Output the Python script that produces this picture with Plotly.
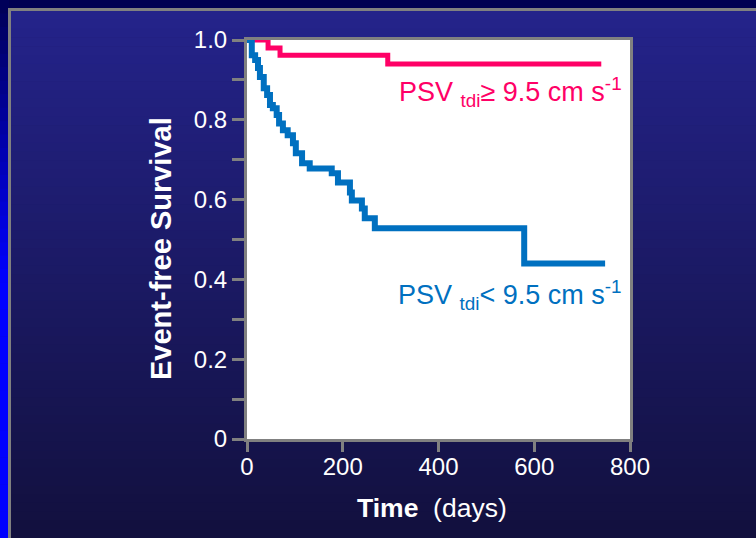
import plotly.graph_objects as go

# ---- data ----
pink_days = [0, 44, 69, 294, 740]
pink_surv = [1.0, 0.98, 0.962, 0.94, 0.94]

blue_days = [0, 10, 17, 23, 27, 35, 42, 48, 54, 62, 67, 75, 85, 96, 102,
             115, 131, 177, 190, 215, 219, 240, 246, 267, 579, 748]
blue_surv = [1.0, 0.962, 0.950, 0.930, 0.907, 0.879, 0.862, 0.837, 0.829,
             0.812, 0.791, 0.774, 0.761, 0.741, 0.716, 0.691, 0.678, 0.666,
             0.643, 0.618, 0.598, 0.578, 0.553, 0.528, 0.44, 0.44]

x_ticks = [0, 200, 400, 600, 800]
y_ticks = [0, 0.1, 0.2, 0.3, 0.4, 0.5, 0.6, 0.7, 0.8, 0.9, 1.0]
y_ticktext = ["0", "", "0.2", "", "0.4", "", "0.6", "", "0.8", "", "1.0"]

label_pink = "PSV <sub>tdi</sub>\u2265 9.5 cm s<sup>-1</sup>"
label_blue = "PSV <sub>tdi</sub>&lt; 9.5 cm s<sup>-1</sup>"

# ---- layout geometry ----
W, H = 756, 538
L, R, T, B = 247, 126, 40, 99
PW, PH = W - L - R, H - T - B
FONT = "Arial, Liberation Sans, sans-serif"


def px(x):
    return (x - L) / PW


def py(y):
    return (H - B - y) / PH


def lerp(c1, c2, t):
    return "rgb(%d,%d,%d)" % tuple(round(a + (b - a) * t) for a, b in zip(c1, c2))


shapes = []
# top band
shapes.append(dict(type="rect", xref="paper", yref="paper", x0=px(0), x1=px(W),
                   y0=py(0), y1=py(9), fillcolor="rgb(0,0,82)", line_width=0, layer="below"))
# left strip gradient
n = 40
for i in range(n):
    y0 = i * H / n
    y1 = (i + 1) * H / n
    t = min(1.0, (y0 + y1) / 2 / 280)
    shapes.append(dict(type="rect", xref="paper", yref="paper", x0=px(0), x1=px(9),
                       y0=py(y0), y1=py(y1 + 0.5), fillcolor=lerp((0, 0, 85), (0, 0, 255), t),
                       line_width=0, layer="below"))
# inner gradient
n = 60
top, bot = 11, H
for i in range(n):
    y0 = top + i * (bot - top) / n
    y1 = top + (i + 1) * (bot - top) / n
    t = i / (n - 1)
    shapes.append(dict(type="rect", xref="paper", yref="paper", x0=px(11), x1=px(W),
                       y0=py(y0), y1=py(y1 + 0.5), fillcolor=lerp((36, 35, 138), (18, 16, 62), t),
                       line_width=0, layer="below"))
# gray frame lines
shapes.append(dict(type="rect", xref="paper", yref="paper", x0=px(8), x1=px(W),
                   y0=py(8), y1=py(11), fillcolor="#808080", line_width=0, layer="below"))
shapes.append(dict(type="rect", xref="paper", yref="paper", x0=px(8), x1=px(11),
                   y0=py(8), y1=py(H), fillcolor="#808080", line_width=0, layer="below"))
# white plot area
shapes.append(dict(type="rect", xref="paper", yref="paper", x0=0, x1=1, y0=0, y1=1,
                   fillcolor="white", line_width=0, layer="below"))

fig = go.Figure()
fig.add_trace(go.Scatter(x=pink_days, y=pink_surv, mode="lines", line_shape="hv",
                         line=dict(color="#FF0066", width=5), showlegend=False))
fig.add_trace(go.Scatter(x=blue_days, y=blue_surv, mode="lines", line_shape="hv",
                         line=dict(color="#0070C0", width=6), showlegend=False))

axis_common = dict(showgrid=False, zeroline=False, showline=True, linecolor="#808080",
                   linewidth=3, mirror=True, ticks="outside", tickcolor="#808080",
                   tickwidth=3, tickfont=dict(family=FONT, size=24, color="white"))

fig.update_xaxes(range=[0, 800], tickvals=x_ticks, ticklen=10, ticklabelstandoff=-6,
                 **axis_common)
fig.update_yaxes(range=[0, 1], tickvals=y_ticks, ticktext=y_ticktext, ticklen=12, **axis_common)

annotations = [
    dict(x=313, y=0.87, xref="x", yref="y", text=label_pink, showarrow=False,
         xanchor="left", yanchor="middle", font=dict(family=FONT, size=27, color="#FF0066")),
    dict(x=311, y=0.36, xref="x", yref="y", text=label_blue, showarrow=False,
         xanchor="left", yanchor="middle", font=dict(family=FONT, size=27, color="#0070C0")),
    dict(x=px(161), y=py(249), xref="paper", yref="paper", text="<b>Event-free Survival</b>",
         textangle=-90, showarrow=False, xanchor="center", yanchor="middle",
         font=dict(family=FONT, size=29, color="white")),
    dict(x=px(432), y=py(508), xref="paper", yref="paper",
         text="<b>Time</b>\u00a0\u00a0(days)", showarrow=False, xanchor="center",
         yanchor="middle", font=dict(family=FONT, size=26.5, color="white")),
]

fig.update_layout(width=W, height=H, margin=dict(l=L, r=R, t=T, b=B),
                  paper_bgcolor="rgb(28,26,100)", plot_bgcolor="white",
                  shapes=shapes, annotations=annotations)

fig.write_html("out.html", config={"displayModeBar": False},
               post_script="document.body.style.margin='0';document.body.style.overflow='hidden';")
